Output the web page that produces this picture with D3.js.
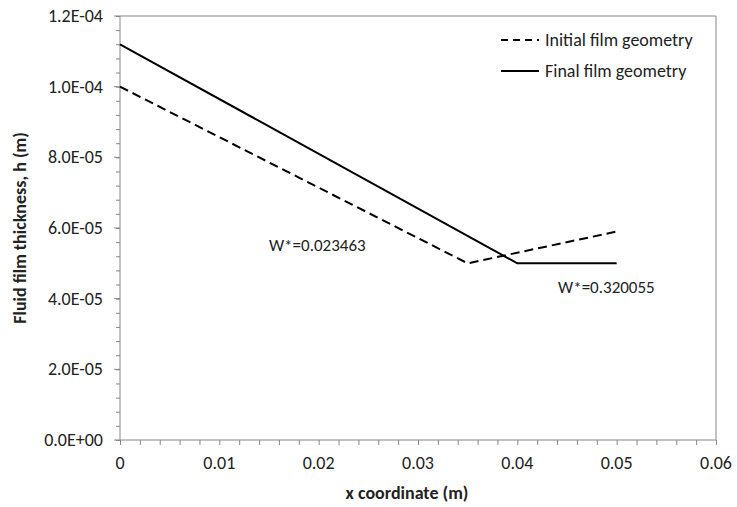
<!DOCTYPE html>
<html><head><meta charset="utf-8">
<script src="https://cdn.jsdelivr.net/npm/d3@7"></script>
<style>body{margin:0;background:#fff}svg{display:block}text{font-family:Carlito,Calibri,Lato,"Open Sans",sans-serif;fill:#222}</style>
</head><body><svg id="c" width="737" height="507"></svg>
<script>
const initialX = [0, 0.035, 0.05];
const initialH = [1.0e-4, 5.0e-5, 5.9e-5];
const finalX = [0, 0.04, 0.05];
const finalH = [1.12e-4, 5.0e-5, 5.0e-5];
const xTicks = [0, 0.01, 0.02, 0.03, 0.04, 0.05, 0.06];
const xTickLabels = ["0", "0.01", "0.02", "0.03", "0.04", "0.05", "0.06"];
const yTicks = [0, 2e-5, 4e-5, 6e-5, 8e-5, 1e-4, 1.2e-4];
const yTickLabels = ["0.0E+00", "2.0E-05", "4.0E-05", "6.0E-05", "8.0E-05", "1.0E-04", "1.2E-04"];
const seriesNames = ["Initial film geometry", "Final film geometry"];
const annotations = [
  {x: 0.0150, h: 5.35e-5, text: "W*=0.023463"},
  {x: 0.0441, h: 4.15e-5, text: "W*=0.320055"}
];

const FS = 18;
const svg = d3.select("#c");
const L = 120, R = 716, T = 16, B = 440;
const x = d3.scaleLinear().domain([0, 0.06]).range([L, R]);
const y = d3.scaleLinear().domain([0, 1.2e-4]).range([B, T]);
const axisCol = "#868686";

// plot border (top & right)
svg.append("path").attr("d", `M${L},${T}H${R}V${B}`).attr("fill", "none").attr("stroke", axisCol).attr("stroke-width", 1);

// x axis
const xMinor = d3.range(0, 0.0601, 0.002);
const gx = svg.append("g").attr("transform", `translate(0,${B})`);
gx.call(d3.axisBottom(x).tickValues(xMinor).tickSize(5).tickFormat(""));
gx.selectAll("path,line").attr("stroke", axisCol);
gx.select(".domain").attr("d", `M${L},0H${R}`);
svg.append("g").selectAll("text").data(xTicks).enter().append("text")
  .attr("x", d => x(d)).attr("y", B + 29).attr("text-anchor", "middle")
  .attr("font-size", FS).text((d, i) => xTickLabels[i]);

// y axis
const yMinor = d3.range(0, 1.2001e-4, 4e-6);
const gy = svg.append("g").attr("transform", `translate(${L},0)`);
gy.call(d3.axisLeft(y).tickValues(yMinor).tickSize(4).tickFormat(""));
gy.selectAll("path,line").attr("stroke", axisCol);
gy.select(".domain").attr("d", `M0,${T}V${B}`);
gy.selectAll(".maj").data(yTicks).enter().append("line")
  .attr("x1", -6).attr("x2", 0).attr("y1", d => y(d)).attr("y2", d => y(d)).attr("stroke", axisCol);
svg.append("g").selectAll("text").data(yTicks).enter().append("text")
  .attr("x", L - 17).attr("y", d => y(d) + 6).attr("text-anchor", "end")
  .attr("font-size", FS).text((d, i) => yTickLabels[i]);

// axis titles
svg.append("text").attr("x", 407).attr("y", 499).attr("text-anchor", "middle")
  .attr("font-size", FS).attr("font-weight", "bold").text("x coordinate (m)");
svg.append("text").attr("transform", `translate(26,${(T + B) / 2}) rotate(-90)`).attr("text-anchor", "middle")
  .attr("font-size", FS).attr("font-weight", "bold").text("Fluid film thickness, h (m)");

// lines
const line = d3.line().x(d => x(d[0])).y(d => y(d[1]));
svg.append("path").datum(initialX.map((v, i) => [v, initialH[i]])).attr("d", line)
  .attr("fill", "none").attr("stroke", "#000").attr("stroke-width", 2).attr("stroke-dasharray", "9,5");
svg.append("path").datum(finalX.map((v, i) => [v, finalH[i]])).attr("d", line)
  .attr("fill", "none").attr("stroke", "#000").attr("stroke-width", 2);

// annotations
svg.selectAll(".ann").data(annotations).enter().append("text")
  .attr("x", d => x(d.x)).attr("y", d => y(d.h)).attr("font-size", 17).text(d => d.text);

// legend
const leg = [{dash: "7,5"}, {dash: null}];
leg.forEach((l, i) => {
  const ly = 40 + i * 31;
  svg.append("line").attr("x1", 501).attr("x2", 539).attr("y1", ly).attr("y2", ly)
    .attr("stroke", "#000").attr("stroke-width", 2).attr("stroke-dasharray", l.dash);
  svg.append("text").attr("x", 545).attr("y", ly + 6).attr("font-size", FS).text(seriesNames[i]);
});
</script></body></html>
